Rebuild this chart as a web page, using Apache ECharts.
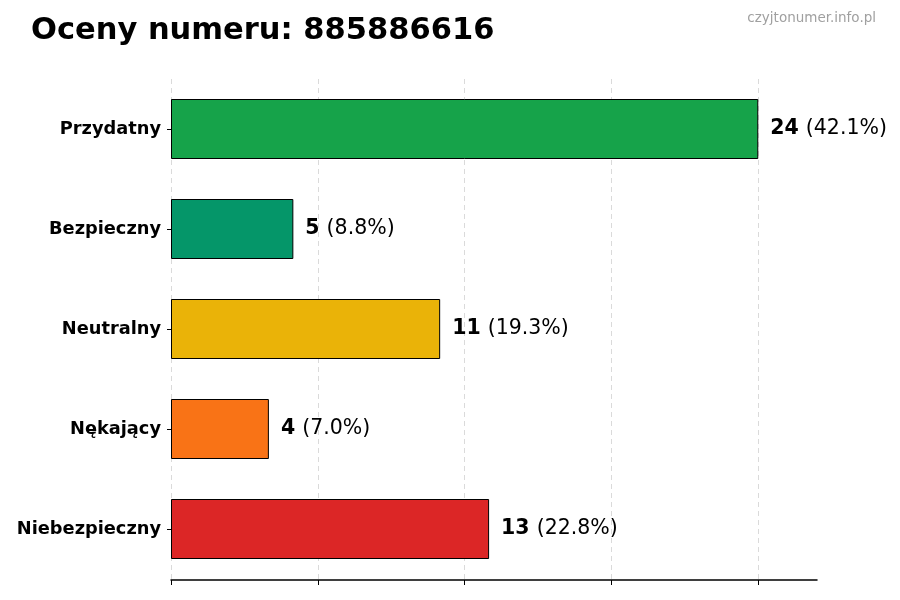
<!DOCTYPE html>
<html>
<head>
<meta charset="utf-8">
<script src="https://cdn.jsdelivr.net/npm/echarts@6/dist/echarts.min.js"></script>
<style>html,body{margin:0;padding:0;background:#fff}#c{width:900px;height:600px}</style>
</head>
<body>
<div id="c"></div>
<script>
const categories = ['Przydatny', 'Bezpieczny', 'Neutralny', 'Nękający', 'Niebezpieczny'];
const counts = [24, 5, 11, 4, 13];
const percents = ['42.1', '8.8', '19.3', '7.0', '22.8'];
const colors = ['#16a34a', '#059669', '#eab308', '#f97316', '#dc2626'];
const xTicks = [0, 6, 12, 18, 24];

const FONT = 'DejaVu Sans';
const chart = echarts.init(document.getElementById('c'), null, {renderer: 'canvas'});
chart.setOption({
  animation: false,
  backgroundColor: '#ffffff',
  textStyle: {fontFamily: FONT},
  title: [
    {text: 'Oceny numeru: 885886616', left: 31, top: 16, padding: 0,
     textStyle: {fontFamily: FONT, fontSize: 30.5, fontWeight: 'bold', color: '#000'}},
    {text: 'czyjtonumer.info.pl', right: 24, top: 11, padding: 0,
     textStyle: {fontFamily: FONT, fontSize: 13.5, fontWeight: 'normal', color: '#a0a0a0'}}
  ],
  grid: {left: 171, right: 83, top: 79, bottom: 21, containLabel: false},
  xAxis: {
    type: 'value', min: 0, max: 26.4, interval: 6, offset: 1,
    axisLine: {show: true, lineStyle: {color: '#000', width: 1.5}},
    axisTick: {show: true, length: 5, lineStyle: {color: '#000', width: 1}, customValues: xTicks},
    axisLabel: {show: false, customValues: xTicks},
    splitLine: {show: true, lineStyle: {color: '#d0d0d0', type: [5, 4], width: 0.8}}
  },
  yAxis: {
    type: 'category', data: categories, inverse: true,
    axisLine: {show: false},
    axisTick: {show: true, alignWithLabel: true, length: 4, lineStyle: {color: '#000'}},
    axisLabel: {fontFamily: FONT, fontSize: 17.8, fontWeight: 'bold', color: '#000', margin: 10}
  },
  series: [{
    type: 'bar', barWidth: 60,
    data: counts.map((v, i) => ({value: v, itemStyle: {color: colors[i]}})),
    itemStyle: {borderColor: '#000', borderWidth: 1},
    label: {
      show: true, position: 'right', distance: 12,
      formatter: p => '{b|' + counts[p.dataIndex] + '}{s| }{n|(' + percents[p.dataIndex] + '%)}',
      rich: {
        b: {fontFamily: FONT, fontSize: 20.5, fontWeight: 'bold', color: '#000'},
        s: {fontFamily: FONT, fontSize: 20.5, width: 7},
        n: {fontFamily: FONT, fontSize: 20.5, fontWeight: 'normal', color: '#000'}
      }
    }
  }]
});
</script>
</body>
</html>
